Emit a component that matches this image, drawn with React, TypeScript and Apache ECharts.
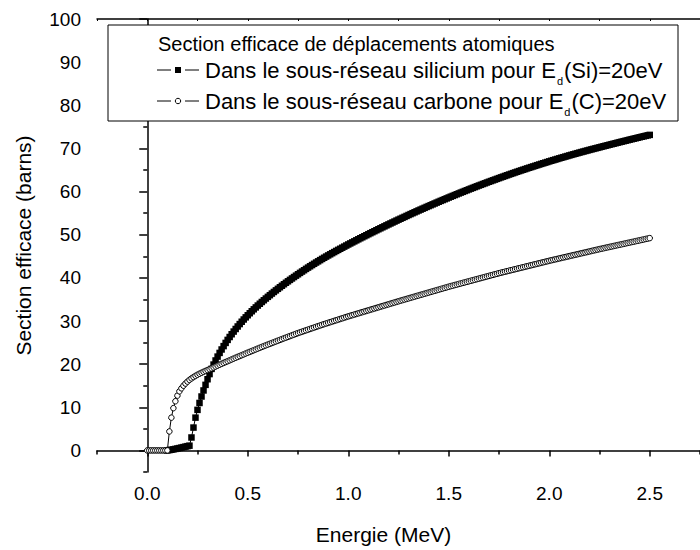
import React, { useEffect, useRef } from 'react';
import * as echarts from 'echarts';

// Energy grid (MeV): Si series starts at SI_START, C series at C_START, both with STEP spacing
const SI_START = 0.1;
const C_START = 0.0;
const STEP = 0.01;

// Section efficace (barns) – silicium sub-lattice, Ed(Si)=20eV, E = 0.10 … 2.50 MeV
const siValues = [
  0, 0.08, 0.16, 0.25, 0.35, 0.45, 0.55, 0.66, 0.77, 0.88, 0.99, 1.1,
  3.0, 5.3, 7.6, 9.4, 11.0, 12.5, 13.9, 15.2, 16.5, 17.7, 18.9,
  19.9, 20.85, 21.75, 22.6, 23.4, 24.18, 24.92, 25.62,
  26.29, 26.93, 27.55, 28.15, 28.73, 29.29, 29.83, 30.35, 30.85, 31.33,
  31.8, 32.26, 32.71, 33.15, 33.58, 34.0, 34.41, 34.81, 35.21, 35.6,
  35.98, 36.36, 36.73, 37.1, 37.46, 37.82, 38.17, 38.52, 38.86, 39.2,
  39.53, 39.86, 40.19, 40.51, 40.83, 41.15, 41.46, 41.77, 42.08, 42.38,
  42.68, 42.97, 43.26, 43.55, 43.83, 44.11, 44.39, 44.66, 44.93, 45.2,
  45.46, 45.72, 45.98, 46.24, 46.49, 46.74, 46.99, 47.24, 47.49, 47.74,
  47.98, 48.22, 48.46, 48.7, 48.94, 49.18, 49.41, 49.65, 49.88, 50.12,
  50.35, 50.58, 50.81, 51.04, 51.27, 51.49, 51.72, 51.94, 52.17, 52.39,
  52.61, 52.83, 53.05, 53.27, 53.49,
  53.7, 53.92, 54.13, 54.35, 54.57, 54.78, 54.99, 55.2, 55.41, 55.62,
  55.82, 56.03, 56.23, 56.44, 56.64, 56.84, 57.04, 57.24, 57.44, 57.64,
  57.84, 58.03, 58.23, 58.42, 58.62,
  58.81, 59.0, 59.19, 59.38, 59.57, 59.76, 59.94, 60.13, 60.31, 60.5,
  60.68, 60.86, 61.04, 61.22, 61.4, 61.57, 61.75, 61.92, 62.1, 62.27,
  62.44, 62.61, 62.78, 62.95, 63.12,
  63.29, 63.45, 63.62, 63.78, 63.95, 64.11, 64.27, 64.43, 64.59, 64.75,
  64.9, 65.06, 65.21, 65.37, 65.52, 65.67, 65.82, 65.97, 66.12, 66.27,
  66.42, 66.56, 66.71, 66.85, 67.0,
  67.14, 67.28, 67.42, 67.56, 67.7, 67.84, 67.97, 68.11, 68.24, 68.38,
  68.51, 68.64, 68.77, 68.9, 69.03, 69.16, 69.28, 69.41, 69.53, 69.66,
  69.78, 69.9, 70.02, 70.14, 70.26,
  70.38, 70.5, 70.62, 70.74, 70.86, 70.98, 71.09, 71.21, 71.33, 71.45,
  71.56, 71.68, 71.79, 71.91, 72.03, 72.14, 72.25, 72.36, 72.48, 72.59,
  72.7, 72.81, 72.92, 73.03, 73.14,
];

// Section efficace (barns) – carbone sub-lattice, Ed(C)=20eV, E = 0.00 … 2.50 MeV
const cValues = [
  0, 0, 0, 0, 0, 0, 0, 0, 0, 0, 0,
  4.4, 7.6, 9.8, 11.4, 12.7, 13.7, 14.4, 15.0, 15.5, 15.95,
  16.35, 16.7, 17.0, 17.28, 17.54, 17.78, 18.0, 18.22, 18.43, 18.63, 18.83, 19.03,
  19.24, 19.45, 19.66, 19.87, 20.08, 20.29, 20.49, 20.69, 20.89, 21.09,
  21.29, 21.49, 21.69, 21.88, 22.08, 22.27, 22.47, 22.66,
  22.85, 23.04, 23.23, 23.42, 23.61, 23.8, 23.99, 24.18, 24.36, 24.54,
  24.72, 24.9, 25.08, 25.26, 25.44, 25.62, 25.8, 25.98, 26.15, 26.33,
  26.5, 26.68, 26.85, 27.03, 27.2,
  27.36, 27.52, 27.68, 27.84, 28.0, 28.16, 28.32, 28.48, 28.64, 28.8,
  28.96, 29.12, 29.27, 29.42, 29.57, 29.72, 29.87, 30.02, 30.17, 30.32,
  30.47, 30.62, 30.77, 30.92, 31.07,
  31.21, 31.35, 31.49, 31.63, 31.77, 31.91, 32.05, 32.19, 32.33, 32.47,
  32.61, 32.75, 32.89, 33.03, 33.17, 33.31, 33.45, 33.59, 33.73, 33.87,
  34.01, 34.15, 34.29, 34.43, 34.57,
  34.71, 34.84, 34.98, 35.11, 35.25, 35.38, 35.52, 35.65, 35.79, 35.92,
  36.06, 36.19, 36.33, 36.46, 36.6, 36.73, 36.87, 37.0, 37.14, 37.27,
  37.41, 37.54, 37.68, 37.81, 37.95,
  38.08, 38.2, 38.33, 38.45, 38.58, 38.7, 38.83, 38.95, 39.08, 39.2,
  39.33, 39.45, 39.58, 39.7, 39.83, 39.95, 40.08, 40.2, 40.33, 40.45,
  40.58, 40.7, 40.83, 40.95, 41.08,
  41.2, 41.31, 41.43, 41.54, 41.66, 41.77, 41.89, 42.0, 42.12, 42.23,
  42.35, 42.46, 42.58, 42.69, 42.81, 42.92, 43.04, 43.15, 43.27, 43.38,
  43.5, 43.61, 43.73, 43.84, 43.96,
  44.07, 44.18, 44.28, 44.39, 44.5, 44.61, 44.72, 44.82, 44.93, 45.04,
  45.15, 45.26, 45.36, 45.47, 45.58, 45.69, 45.8, 45.9, 46.01, 46.12,
  46.23, 46.34, 46.44, 46.55, 46.66,
  46.76, 46.86, 46.97, 47.07, 47.17, 47.27, 47.37, 47.48, 47.58, 47.68,
  47.78, 47.88, 47.99, 48.09, 48.19, 48.29, 48.39, 48.5, 48.6, 48.7,
  48.8, 48.9, 49.01, 49.11, 49.21,
];

const xMajorTicks = [0, 0.5, 1.0, 1.5, 2.0, 2.5];
const xMinorTicks = [-0.25, 0.25, 0.75, 1.25, 1.75, 2.25, 2.75];
const yMajorTicks = [0, 10, 20, 30, 40, 50, 60, 70, 80, 90, 100];
const yMinorTicks = [-5, 5, 15, 25, 35, 45, 55, 65, 75, 85, 95];

const xTitle = 'Energie (MeV)';
const yTitle = 'Section efficace (barns)';
const legendTitle = 'Section efficace de déplacements atomiques';
const siName = 'Dans le sous-réseau silicium pour E_d(Si)=20eV';
const cName = 'Dans le sous-réseau carbone pour E_d(C)=20eV';

const FONT = '"Liberation Sans", Arial, Helvetica, sans-serif';

function toPairs(start: number, values: number[]) {
  return values.map((v, i) => [Math.round((start + i * STEP) * 100) / 100, v]);
}

function richSub(label: string) {
  const [pre, rest] = label.split('_d');
  return `{a|${pre}}{s|d}{a|${rest}}`;
}

export default function App() {
  const ref = useRef<HTMLDivElement>(null);
  useEffect(() => {
    const chart = echarts.init(ref.current!, null, { renderer: 'svg' });
    const axisCommon = {
      type: 'value' as const,
      min: -0.25,
      max: 2.75,
      splitLine: { show: false },
    };
    const yCommon = {
      type: 'value' as const,
      min: -5,
      max: 100,
      splitLine: { show: false },
    };
    const lineCol = '#000';
    const titleFont = 20;
    const rowFont = 22;
    const row1Y = 70;
    const row2Y = 101;
    const richStyles = {
      a: { fontSize: rowFont, fontFamily: FONT, fill: '#000', color: '#000' },
      s: { fontSize: 11, fontFamily: FONT, fill: '#000', color: '#000', padding: [22, 1, 0, 1] },
    };
    const option: any = {
      animation: false,
      backgroundColor: '#fff',
      grid: { left: 97, top: 19, width: 614, height: 455, containLabel: false },
      xAxis: [
        {
          ...axisCommon,
          position: 'bottom',
          name: xTitle,
          nameLocation: 'middle',
          nameGap: 52,
          nameTextStyle: { fontSize: 21, fontFamily: FONT, color: '#000', padding: [0, 30, 0, 0] },
          axisLine: { show: true, lineStyle: { color: lineCol, width: 1.5 } },
          axisTick: { show: true, customValues: xMajorTicks, length: 6, lineStyle: { color: lineCol, width: 1.5 } },
          axisLabel: {
            show: true,
            customValues: xMajorTicks,
            formatter: (v: number) => v.toFixed(1),
            fontSize: 19,
            fontFamily: FONT,
            color: '#000',
            margin: 12,
          },
        },
        {
          ...axisCommon,
          position: 'bottom',
          axisLine: { show: false },
          axisTick: { show: true, customValues: xMinorTicks, length: 4, lineStyle: { color: lineCol, width: 1.5 } },
          axisLabel: { show: false },
        },
        {
          ...axisCommon,
          position: 'top',
          axisLine: { show: true, lineStyle: { color: lineCol, width: 1.5 } },
          axisTick: {
            show: true,
            inside: true,
            customValues: [...xMinorTicks, ...xMajorTicks],
            length: 2,
            lineStyle: { color: lineCol, width: 1 },
          },
          axisLabel: { show: false },
        },
      ],
      yAxis: [
        {
          ...yCommon,
          position: 'left',
          name: yTitle,
          nameLocation: 'middle',
          nameGap: 63,
          nameTextStyle: { fontSize: 21, fontFamily: FONT, color: '#000' },
          axisLine: { show: true, lineStyle: { color: lineCol, width: 1.5 } },
          axisTick: { show: true, customValues: yMajorTicks, length: 8, lineStyle: { color: lineCol, width: 1.5 } },
          axisLabel: {
            show: true,
            customValues: yMajorTicks,
            fontSize: 19,
            fontFamily: FONT,
            color: '#000',
            margin: 16,
          },
        },
        {
          ...yCommon,
          position: 'left',
          axisLine: { show: false },
          axisTick: { show: true, customValues: yMinorTicks, length: 4, lineStyle: { color: lineCol, width: 1.5 } },
          axisLabel: { show: false },
        },
      ],
      series: [
        {
          name: siName,
          type: 'line',
          xAxisIndex: 0,
          yAxisIndex: 0,
          data: toPairs(SI_START, siValues),
          symbol: 'rect',
          symbolSize: 6.5,
          showSymbol: true,
          itemStyle: { color: '#000' },
          lineStyle: { color: '#000', width: 1 },
          silent: true,
        },
        {
          name: cName,
          type: 'line',
          xAxisIndex: 0,
          yAxisIndex: 0,
          data: toPairs(C_START, cValues),
          symbol: 'circle',
          symbolSize: 5.5,
          showSymbol: true,
          itemStyle: { color: '#fff', borderColor: '#000', borderWidth: 1 },
          lineStyle: { color: '#000', width: 1 },
          silent: true,
        },
      ],
      graphic: [
        {
          type: 'rect',
          shape: { x: 108, y: 25, width: 570, height: 96 },
          style: { fill: '#fff', stroke: '#000', lineWidth: 1 },
          z: 10,
        },
        {
          type: 'text',
          x: 158,
          y: 44,
          style: { text: legendTitle, fontSize: titleFont, fontFamily: FONT, fill: '#000', verticalAlign: 'middle' },
          z: 11,
        },
        { type: 'line', shape: { x1: 157, y1: row1Y, x2: 171, y2: row1Y }, style: { stroke: '#000', lineWidth: 1 }, z: 11 },
        { type: 'rect', shape: { x: 175, y: row1Y - 3, width: 6, height: 6 }, style: { fill: '#000' }, z: 11 },
        { type: 'line', shape: { x1: 185, y1: row1Y, x2: 199, y2: row1Y }, style: { stroke: '#000', lineWidth: 1 }, z: 11 },
        {
          type: 'text',
          x: 205,
          y: row1Y,
          style: { text: richSub(siName), rich: richStyles, fill: '#000', verticalAlign: 'middle' },
          z: 11,
        },
        { type: 'line', shape: { x1: 157, y1: row2Y, x2: 171, y2: row2Y }, style: { stroke: '#000', lineWidth: 1 }, z: 11 },
        { type: 'circle', shape: { cx: 178, cy: row2Y, r: 2.7 }, style: { fill: '#fff', stroke: '#000', lineWidth: 1 }, z: 11 },
        { type: 'line', shape: { x1: 185, y1: row2Y, x2: 199, y2: row2Y }, style: { stroke: '#000', lineWidth: 1 }, z: 11 },
        {
          type: 'text',
          x: 205,
          y: row2Y,
          style: { text: richSub(cName), rich: richStyles, fill: '#000', verticalAlign: 'middle' },
          z: 11,
        },
      ],
    };
    chart.setOption(option);
    return () => chart.dispose();
  }, []);
  return <div ref={ref} style={{ position: 'absolute', left: 0, top: 0, width: 700, height: 550 }} />;
}
